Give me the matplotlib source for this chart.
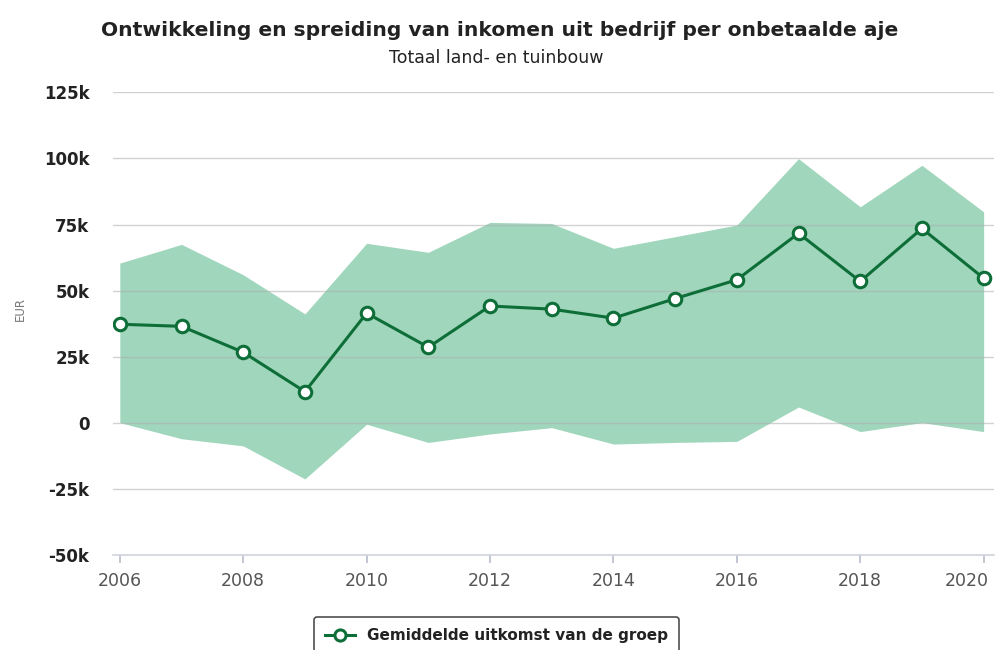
import matplotlib
matplotlib.use('Agg')
import matplotlib.pyplot as plt
import matplotlib.transforms as mtransforms
from matplotlib.lines import Line2D
import numpy as np

plt.rcParams['font.family'] = ['DejaVu Sans']

# data
years = [2006, 2007, 2008, 2009, 2010, 2011, 2012, 2013, 2014, 2015, 2016, 2017, 2018, 2019, 2020]
mean_income = [37300, 36500, 26700, 11800, 41500, 28600, 44200, 43000, 39600, 47000, 54100, 71700, 53500, 73500, 54700]
upper_band = [60400, 67500, 56000, 41200, 67900, 64500, 75800, 75400, 66000, 70400, 74800, 99900, 81700, 97400, 79800]
lower_band = [100, -6000, -8700, -21200, -500, -7400, -4200, -1800, -8000, -7400, -7000, 6000, -3300, 100, -3300]
ytick_vals = [-50000, -25000, 0, 25000, 50000, 75000, 100000, 125000]
ytick_labels = ['-50k', '-25k', '0', '25k', '50k', '75k', '100k', '125k']
xtick_vals = [2006, 2008, 2010, 2012, 2014, 2016, 2018, 2020]

title = 'Ontwikkeling en spreiding van inkomen uit bedrijf per onbetaalde aje'
subtitle = 'Totaal land- en tuinbouw'
legend_label = 'Gemiddelde uitkomst van de groep'

band_color = '#a0d6bc'
line_color = '#0e6e38'

fig = plt.figure(figsize=(9.96, 6.5), dpi=100)
ax = fig.add_axes([0.1135, 0.146, 0.884, 0.712])

ax.fill_between(years, lower_band, upper_band, color=band_color, linewidth=0, zorder=1)
ax.plot(years, mean_income, color=line_color, linewidth=2.2, marker='o', markersize=9,
        markerfacecolor='white', markeredgecolor=line_color, markeredgewidth=2.2, zorder=4)

ax.set_ylim(-50000, 125000)
ax.set_xlim(2005.89, 2020.16)
ax.set_yticks(ytick_vals)
ax.set_yticklabels(ytick_labels)
ax.set_xticks(xtick_vals)

# horizontal grid lines drawn on top of the band
for v in ytick_vals[1:]:
    ax.axhline(v, color='#aab0ae', linewidth=1.0, alpha=0.55, zorder=2)

for s in ['top', 'right', 'left']:
    ax.spines[s].set_visible(False)
ax.spines['bottom'].set_color('#d0d4dc')
ax.spines['bottom'].set_linewidth(1.2)

ax.tick_params(axis='y', length=0, pad=17, labelsize=12, labelcolor='#222222')
for lab in ax.get_yticklabels():
    lab.set_fontweight('bold')
ax.tick_params(axis='x', direction='out', length=6, width=1.2, color='#b8bfcc',
               pad=6, labelsize=12.5, labelcolor='#555555')

# last year label sits a bit left of its tick so it stays inside the figure
fig.canvas.draw()
last_lab = ax.get_xticklabels()[-1]
last_lab.set_transform(last_lab.get_transform() + mtransforms.ScaledTranslation(-0.17, 0, fig.dpi_scale_trans))

fig.text(0.02, 0.525, 'EUR', rotation=90, ha='center', va='center', fontsize=8.5, color='#777777')

fig.text(0.502, 0.953, title, ha='center', va='center', fontsize=14.6, fontweight='bold', color='#222222')
fig.text(0.498, 0.911, subtitle, ha='center', va='center', fontsize=12.5, color='#222222')

handle = Line2D([], [], color=line_color, linewidth=2.2, marker='o', markersize=8,
                markerfacecolor='white', markeredgecolor=line_color, markeredgewidth=2.2)
leg = fig.legend([handle], [legend_label], loc='upper center', bbox_to_anchor=(0.4985, 0.062),
                 frameon=True, fancybox=True, fontsize=11, handlelength=2.0, borderpad=0.7)
leg.get_frame().set_edgecolor('#222222')
leg.get_frame().set_linewidth(1.2)
for t in leg.get_texts():
    t.set_fontweight('bold')
    t.set_color('#222222')

fig.savefig('out.png', dpi=100)
